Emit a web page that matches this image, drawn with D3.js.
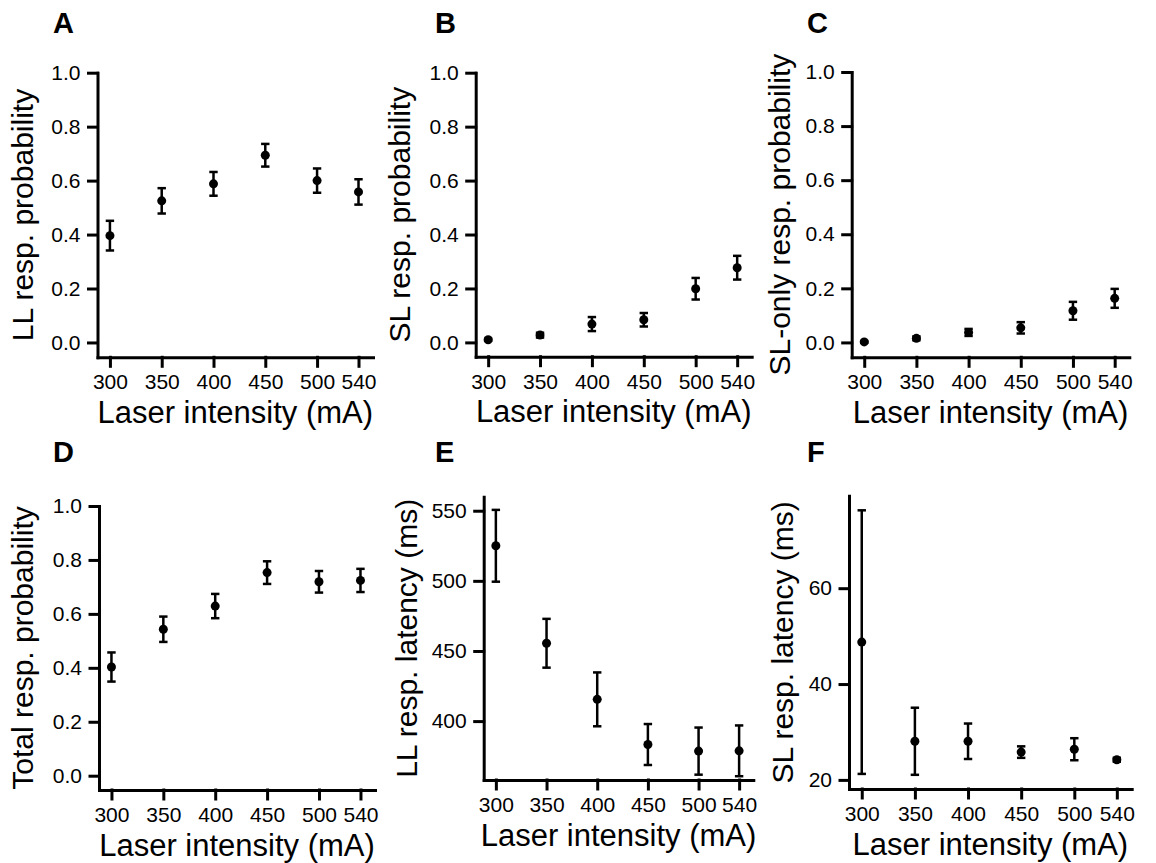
<!DOCTYPE html>
<html lang="en">
<meta charset="utf-8">
<style>
body { margin: 0; background: #fff; }
</style>
<body>
<script src="https://d3js.org/d3.v7.min.js"></script>
<script>
// shared x categories (laser intensity, mA)
var intensity = [300, 350, 400, 450, 500, 540];

// A: LL response probability
var llProb = [0.396, 0.525, 0.588, 0.694, 0.600, 0.558];
var llProbErr = [0.055, 0.047, 0.044, 0.042, 0.045, 0.047];
// B: SL response probability
var slProb = [0.010, 0.027, 0.068, 0.084, 0.199, 0.277];
var slProbErr = [0.004, 0.009, 0.026, 0.025, 0.040, 0.044];
// C: SL-only response probability
var slOnlyProb = [0.002, 0.015, 0.037, 0.054, 0.117, 0.163];
var slOnlyProbErr = [0.003, 0.007, 0.013, 0.021, 0.033, 0.035];
// D: total response probability
var totalProb = [0.403, 0.543, 0.629, 0.753, 0.719, 0.724];
var totalProbErr = [0.054, 0.047, 0.045, 0.042, 0.040, 0.043];
// E: LL response latency (ms)
var llLat = [525, 455.5, 415.5, 383.3, 378.6, 378.8];
var llLatErr = [25.6, 17.4, 19.2, 14.6, 16.8, 18.1];
// F: SL response latency (ms)
var slLat = [48.75, 28.06, 28.06, 25.8, 26.4, 24.2];
var slLatErr = [27.5, 7.0, 3.7, 1.2, 2.3, 0.4];

var probTicks = [0, 0.2, 0.4, 0.6, 0.8, 1.0];

var font = "'Liberation Sans', Arial, sans-serif";
var tickFont = "21px", xTitleFont = "31px", yTitleFont = "30px", letterFont = "29px";

var panels = [
  {letter: "A", lx: 53, ly: 33, left: 97.5, width: 275.5, top: 72.7, bottom: 357.3, ydom: [-0.055, 1], yticks: probTicks, fmt: d3.format(".1f"), title: "LL resp. probability", ty: 65, mean: llProb, err: llProbErr},
  {letter: "B", lx: 435, ly: 33, left: 475.7, width: 276, top: 72.7, bottom: 356.7, ydom: [-0.053, 1], yticks: probTicks, fmt: d3.format(".1f"), title: "SL resp. probability", ty: 66, mean: slProb, err: slProbErr},
  {letter: "C", lx: 807, ly: 33, left: 851.7, width: 277.6, top: 72, bottom: 357.3, ydom: [-0.055, 1], yticks: probTicks, fmt: d3.format(".1f"), title: "SL-only resp. probability", ty: 62, mean: slOnlyProb, err: slOnlyProbErr},
  {letter: "D", lx: 53, ly: 462, left: 99, width: 276, top: 506, bottom: 790, ydom: [-0.053, 1], yticks: probTicks, fmt: d3.format(".1f"), title: "Total resp. probability", ty: 66, mean: totalProb, err: totalProbErr},
  {letter: "E", lx: 435, ly: 462, left: 483.7, width: 269.6, top: 496.7, bottom: 780, ydom: [358, 560], yticks: [400, 450, 500, 550], fmt: d3.format("d"), title: "LL resp. latency (ms)", ty: 67, mean: llLat, err: llLatErr},
  {letter: "F", lx: 807, ly: 462, left: 849, width: 282.7, top: 495.7, bottom: 789, ydom: [18.1, 79.3], yticks: [20, 40, 60], fmt: d3.format("d"), title: "SL resp. latency (ms)", ty: 56, mean: slLat, err: slLatErr}
];

var svg = d3.select("body").append("svg")
    .attr("width", 1156)
    .attr("height", 863)
    .style("font-family", font);

function styleAxis(g) {
  g.attr("font-size", null).attr("font-family", null);
  g.selectAll("path, line")
      .style("stroke", "#000")
      .style("stroke-width", "3px")
      .style("stroke-linecap", "square");
  g.selectAll("text")
      .style("font-size", tickFont)
      .style("font-family", font)
      .style("fill", "#000");
}

panels.forEach(function(p) {
  var x = d3.scaleLinear().domain([288, 554]).range([p.left, p.left + p.width]);
  var y = d3.scaleLinear().domain(p.ydom).range([p.bottom, p.top]);

  svg.append("text")
      .attr("x", p.lx)
      .attr("y", p.ly)
      .style("font-size", letterFont)
      .style("font-weight", "bold")
      .text(p.letter);

  svg.append("g")
      .attr("transform", "translate(0," + p.bottom + ")")
      .call(d3.axisBottom(x).tickValues(intensity).tickFormat(d3.format("d")).tickSize(9).tickSizeOuter(0).tickPadding(8))
      .call(styleAxis);

  svg.append("g")
      .attr("transform", "translate(" + p.left + ",0)")
      .call(d3.axisLeft(y).tickValues(p.yticks).tickFormat(p.fmt).tickSize(9).tickSizeOuter(0).tickPadding(8))
      .call(styleAxis);

  // axis titles
  svg.append("text")
      .attr("text-anchor", "middle")
      .attr("x", p.left + p.width / 2)
      .attr("y", p.bottom + 65.5)
      .style("font-size", xTitleFont)
      .text("Laser intensity (mA)");

  svg.append("text")
      .attr("text-anchor", "middle")
      .attr("transform", "translate(" + (p.left - p.ty) + "," + ((p.top + p.bottom) / 2) + ") rotate(-90)")
      .style("font-size", yTitleFont)
      .text(p.title);

  var pts = intensity.map(function(d, i) { return {x: d, m: p.mean[i], e: p.err[i]}; });

  var g = svg.append("g").selectAll("g")
      .data(pts)
    .enter().append("g");

  g.append("line")
      .attr("x1", function(d) { return x(d.x); })
      .attr("x2", function(d) { return x(d.x); })
      .attr("y1", function(d) { return y(d.m - d.e); })
      .attr("y2", function(d) { return y(d.m + d.e); })
      .attr("stroke", "#000")
      .attr("stroke-width", 2.5);

  [-1, 1].forEach(function(s) {
    g.append("line")
        .attr("x1", function(d) { return x(d.x) - 4.2; })
        .attr("x2", function(d) { return x(d.x) + 4.2; })
        .attr("y1", function(d) { return y(d.m + s * d.e); })
        .attr("y2", function(d) { return y(d.m + s * d.e); })
        .attr("stroke", "#000")
        .attr("stroke-width", 2.5);
  });

  g.append("circle")
      .attr("cx", function(d) { return x(d.x); })
      .attr("cy", function(d) { return y(d.m); })
      .attr("r", 4.5)
      .attr("fill", "#000");
});
</script>
</body>
</html>
